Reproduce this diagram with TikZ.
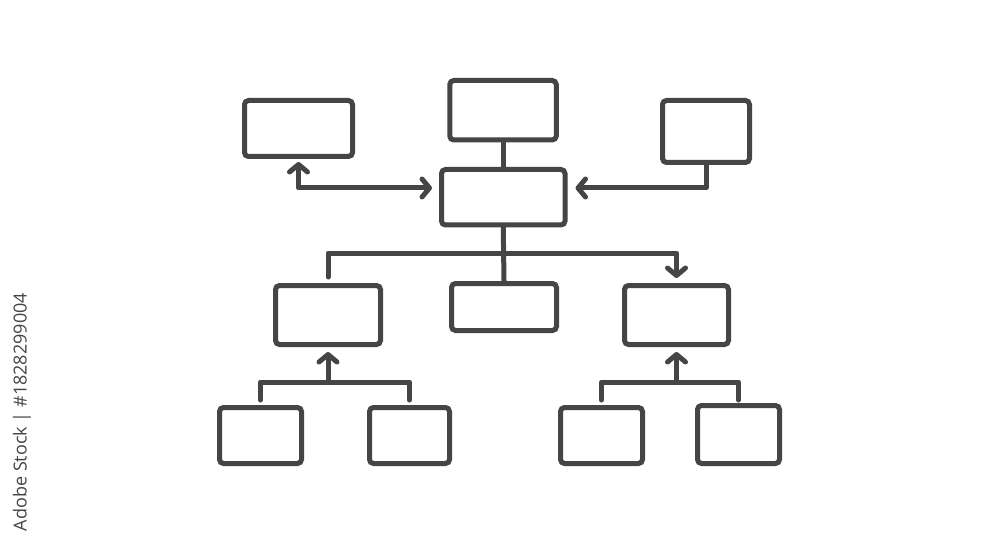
\documentclass[tikz,border=0pt]{standalone}
\usepackage{fontspec}
\setsansfont{Open Sans}
\usetikzlibrary{arrows.meta,calc}
\definecolor{ink}{HTML}{454545}
\tikzset{
  box/.style={draw=ink, line width=5pt, rounded corners=4pt, inner sep=0pt, fill=white},
  link/.style={draw=ink, line width=5pt, line cap=round, line join=round},
  tip/.style={-{Straight Barb[length=7.5pt,width=18pt,line cap=round,line join=round]}},
  tips/.style={{Straight Barb[length=7.5pt,width=18pt,line cap=round,line join=round]}-{Straight Barb[length=7.5pt,width=18pt,line cap=round,line join=round]}},
}
\begin{document}
\begin{tikzpicture}[x=1pt,y=-1pt]
\useasboundingbox[fill=white] (0,0) rectangle (1000,545);
% boxes
\node[box, minimum width=106.5pt, minimum height=59.5pt] (T)  at (503,110.25) {};
\node[box, minimum width=123.5pt, minimum height=55.5pt] (C)  at (503.25,197.25) {};
\node[box, minimum width=108pt, minimum height=56pt]     (TL) at (298.5,128.5) {};
\node[box, minimum width=87pt, minimum height=62pt]      (TR) at (706,131.5) {};
\node[box, minimum width=105pt, minimum height=59pt]     (ML) at (328,315) {};
\node[box, minimum width=105pt, minimum height=47pt]     (MM) at (504,307) {};
\node[box, minimum width=104pt, minimum height=59pt]     (MR) at (676.5,315) {};
\node[box, minimum width=82pt, minimum height=56pt]      (B1) at (260.5,435.5) {};
\node[box, minimum width=80pt, minimum height=56pt]      (B2) at (409.5,435.5) {};
\node[box, minimum width=82pt, minimum height=56pt]      (B3) at (601.5,435.5) {};
\node[box, minimum width=82pt, minimum height=58pt]      (B4) at (738.5,434.5) {};
% bend coordinates
\coordinate (yTop) at (0,188);
\coordinate (yMid) at (0,253);
\coordinate (yLow) at (0,382);
% connectors
\draw[link] (T.south -| C.north) -- (C.north);
\draw[link, tips] ($(TL.south)+(0,3)$) -- (TL.south |- yTop) -- ($(C.west |- yTop)+(-7,0)$);
\draw[link, tip] (TR.south) -- (TR.south |- yTop) -- ($(C.east |- yTop)+(8,0)$);
\draw[link] (C.south) -- (MM.north);
\draw[link, tip] ($(ML.north)+(0,-6)$) -- (ML.north |- yMid) -- (MR.north |- yMid) -- ($(MR.north)+(0,-5)$);
\draw[link] ($(B1.north)+(0,-5)$) -- (B1.north |- yLow) -- (B2.north |- yLow) -- ($(B2.north)+(0,-5)$);
\draw[link, tip] (ML.south |- yLow) -- ($(ML.south)+(0,5)$);
\draw[link] ($(B3.north)+(0,-5)$) -- (B3.north |- yLow) -- (B4.north |- yLow) -- ($(B4.north)+(0,-3)$);
\draw[link, tip] (MR.south |- yLow) -- ($(MR.south)+(0,5)$);
% credit line
\node[rotate=90, text=ink, font=\sffamily\fontsize{18}{21}\selectfont, inner sep=0pt] (credit) at (22,412) {Adobe Stock | \#1828299004};
\end{tikzpicture}
\end{document}
